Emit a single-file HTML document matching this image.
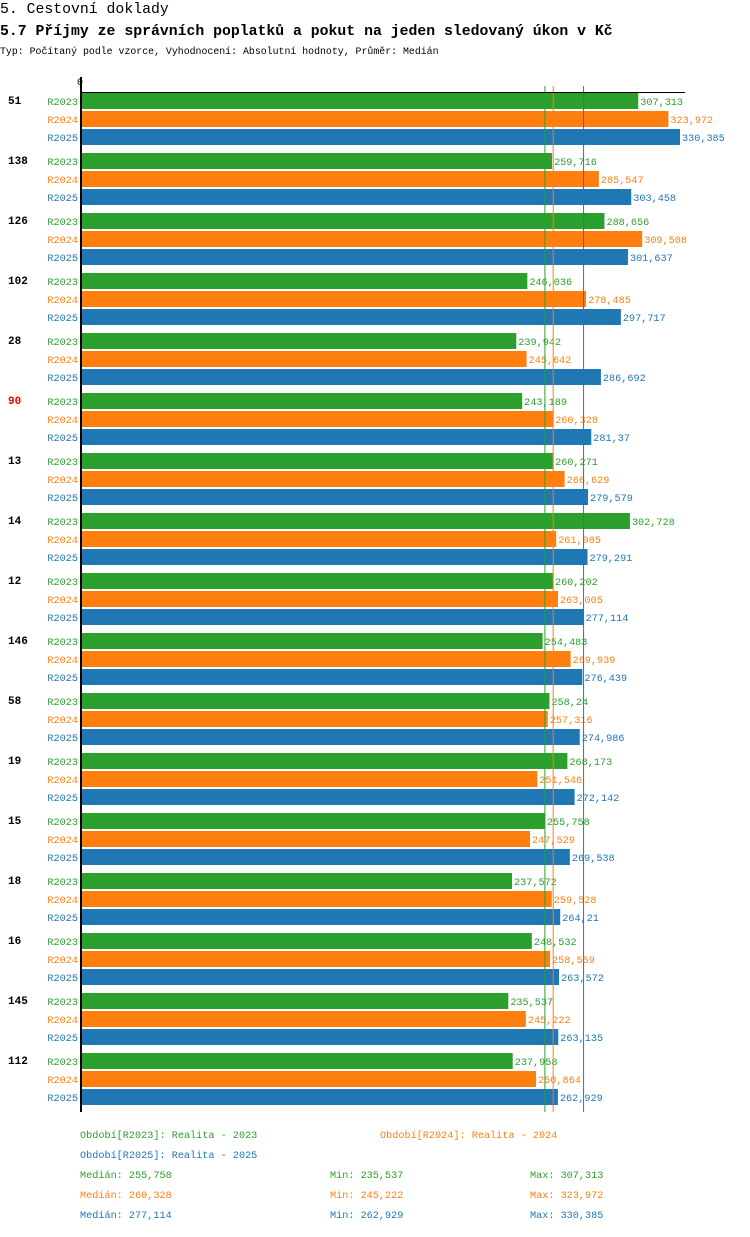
<!DOCTYPE html>
<html><head><meta charset="utf-8"><style>
body{margin:0;background:#fff;width:750px;height:1232px;overflow:hidden;font-family:"Liberation Mono",monospace}
svg text{font-family:"Liberation Mono",monospace}
</style></head><body>
<svg id="c" width="750" height="1232" xmlns="http://www.w3.org/2000/svg">
<text x="0" y="13" font-size="14.8">5. Cestovní doklady</text>
<text x="0" y="35" font-size="14.8" font-weight="bold">5.7 Příjmy ze správních poplatků a pokut na jeden sledovaný úkon v Kč</text>
<text x="0" y="54" font-size="9.9">Typ: Počítaný podle vzorce, Vyhodnocení: Absolutní hodnoty, Průměr: Medián</text>
<text x="80" y="85" font-size="10" text-anchor="middle">0</text>
<g id="g"></g>
</svg>
<script>
const categories=["51","138","126","102","28","90","13","14","12","146","58","19","15","18","16","145","112"];
const r2023=[307313,259716,288656,246036,239942,243189,260271,302728,260202,254483,258240,268173,255758,237572,248532,235537,237958];
const r2024=[323972,285547,309508,278485,245642,260328,266629,261985,263005,269939,257316,251546,247529,259528,258559,245222,250864];
const r2025=[330385,303458,301637,297717,286692,281370,279579,279291,277114,276439,274986,272142,269538,264210,263572,263135,262929];
const seriesNames=["R2023","R2024","R2025"];
const labels=[["307,313","259,716","288,656","246,036","239,942","243,189","260,271","302,728","260,202","254,483","258,24","268,173","255,758","237,572","248,532","235,537","237,958"],
["323,972","285,547","309,508","278,485","245,642","260,328","266,629","261,985","263,005","269,939","257,316","251,546","247,529","259,528","258,559","245,222","250,864"],
["330,385","303,458","301,637","297,717","286,692","281,37","279,579","279,291","277,114","276,439","274,986","272,142","269,538","264,21","263,572","263,135","262,929"]];
const medians=[255758,260328,277114];
const mins=[235537,245222,262929];
const maxs=[307313,323972,330385];
const medLabels=["255,758","260,328","277,114"],minLabels=["235,537","245,222","262,929"],maxLabels=["307,313","323,972","330,385"];
const colors=["#2ca02c","#ff7f0e","#1f77b4"];
const x0=82,k=0.00181;
const X=v=>x0+v*k;
const g=document.getElementById('g');
const NS="http://www.w3.org/2000/svg";
function el(t,a,txt){const e=document.createElementNS(NS,t);for(const n in a)e.setAttribute(n,a[n]);if(txt!=null)e.textContent=txt;g.appendChild(e);return e;}
const data=[r2023,r2024,r2025];
categories.forEach((c,i)=>{
  const y=92+i*60;
  const t=el('text',{x:8,y:y+12,'font-size':11,'font-weight':'bold',fill:c==="90"?"#e00":"#000"},c);
  
  
  for(let s=0;s<3;s++){
    const by=y+1+s*18;
    const l=el('text',{x:78,y:by+12,'font-size':10.2,'text-anchor':'end',fill:colors[s]},seriesNames[s]);
    
    
    const r=el('rect',{x:x0,y:by,width:X(data[s][i])-x0,height:16,fill:colors[s]});
    
    
    const v=el('text',{x:X(data[s][i])+2,y:by+12,'font-size':10.2,fill:colors[s]},labels[s][i]);
    
    
  }
});
for(let s=0;s<3;s++){
  const m=el('line',{x1:X(medians[s]),x2:X(medians[s]),y1:86,y2:1112,stroke:colors[s],'stroke-width':1});
  
  
}
const ax=el('line',{x1:81,x2:81,y1:77,y2:1112,stroke:'#000','stroke-width':2});


const tx=el('line',{x1:80,x2:685,y1:92.5,y2:92.5,stroke:'#000','stroke-width':1});


const leg=[[80,1138,"Období[R2023]: Realita - 2023",0],[380,1138,"Období[R2024]: Realita - 2024",1],[80,1158,"Období[R2025]: Realita - 2025",2]];
leg.forEach(a=>{const e=el('text',{x:a[0],y:a[1],'font-size':10.2,fill:colors[a[3]]},a[2]);

});
for(let s=0;s<3;s++){
  const y=1178+s*20;
  const a=el('text',{x:80,y:y,'font-size':10.2,fill:colors[s]},"Medián: "+medLabels[s]);
  
  
  const b=el('text',{x:330,y:y,'font-size':10.2,fill:colors[s]},"Min: "+minLabels[s]);
  
  
  const d=el('text',{x:530,y:y,'font-size':10.2,fill:colors[s]},"Max: "+maxLabels[s]);
  
  
}
</script>
</body></html>
